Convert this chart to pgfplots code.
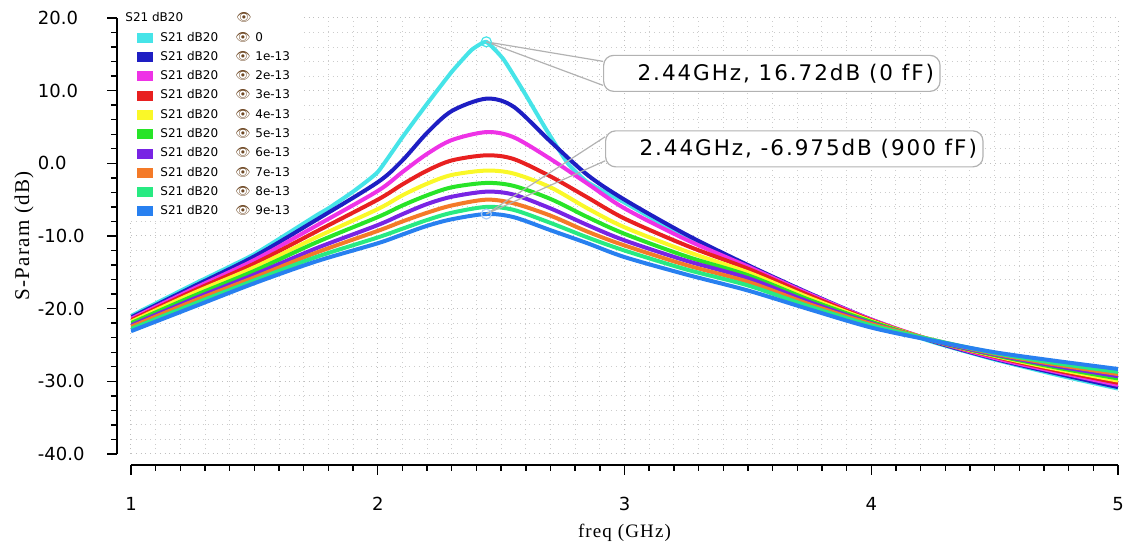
\documentclass[border=0pt]{standalone}
\usepackage{fontspec}
\usepackage{pgfplots}
\pgfplotsset{compat=1.18}
\usepackage{pgfplotstable}

\setmainfont{DejaVu Sans}
\newfontfamily\annfont[LetterSpace=9]{DejaVu Sans}
\newfontfamily\labfont[LetterSpace=6]{Liberation Serif}
\newfontfamily\emojifont{Noto Emoji}

\definecolor{c0}{RGB}{70,228,232}
\definecolor{c1}{RGB}{30,30,195}
\definecolor{c2}{RGB}{238,50,230}
\definecolor{c3}{RGB}{232,32,32}
\definecolor{c4}{RGB}{250,248,40}
\definecolor{c5}{RGB}{40,228,40}
\definecolor{c6}{RGB}{120,36,228}
\definecolor{c7}{RGB}{244,122,40}
\definecolor{c8}{RGB}{40,234,130}
\definecolor{c9}{RGB}{40,128,240}
\definecolor{eyebrown}{RGB}{110,72,36}

\newcommand\eye{{\emojifont\fontsize{6}{6}\selectfont\color{eyebrown}👁}}
\newcommand\entry[1]{\makebox[37.5pt][l]{S21 dB20}\makebox[10pt][l]{\eye}#1}

\pgfplotsset{
  plotarea/.style={scale only axis, width=493.5pt, height=218pt},
  freqticks/.style={xmin=1, xmax=5, xtick={1,2,3,4,5}, minor x tick num=9},
  dbticks/.style={ymin=-40, ymax=20, ytick={-40,-30,...,20}, minor y tick num=4},
  lineaxis/.style={
    axis line style={black, line width=0.8pt},
    tick align=outside, major tick length=5pt, minor tick length=3pt,
    tick style={black, line width=0.7pt},
    tick label style={font=\fontsize{9}{10}\selectfont},
    /pgf/number format/assume math mode=true},
}

% S21 (dB) for C = 100f ... 900f
\pgfplotstableread{
f     c1     c2     c3     c4     c5     c6     c7     c8     c9
1.00 -21.2  -21.4  -21.6  -21.8  -22.0  -22.3  -22.5  -22.8  -23.1
1.25 -17.0  -17.3  -17.6  -17.9  -18.3  -18.7  -19.0  -19.4  -19.8
1.50 -12.8  -13.3  -13.8  -14.3  -14.8  -15.3  -15.7  -16.1  -16.5
1.75  -7.8   -8.6   -9.4  -10.2  -10.9  -11.7  -12.3  -12.9  -13.5
2.00  -2.6   -3.8   -5.0   -6.3   -7.4   -8.5   -9.3  -10.2  -11.0
2.10   0.4   -1.2   -2.9   -4.4   -5.8   -7.0   -8.0   -9.0   -9.8
2.20   4.2    1.3   -1.0   -2.8   -4.4   -5.6   -6.8   -7.8   -8.6
2.30   7.2    3.2    0.4   -1.6   -3.3   -4.6   -5.8   -6.8   -7.7
2.44   8.9    4.3    1.1   -1.0   -2.7   -3.9   -5.0   -6.0   -6.975
2.55   7.8    3.6    0.6   -1.4   -3.1   -4.3   -5.5   -6.4   -7.4
2.70   3.0    0.6   -1.8   -3.3   -4.9   -6.2   -7.2   -8.2   -9.2
2.85  -1.6   -2.8   -4.7   -6.2   -7.4   -8.5   -9.4  -10.2  -11.0
3.00  -5.0   -6.2   -7.6   -8.8   -9.7  -10.6  -11.3  -12.0  -12.9
3.25  -9.8  -10.5  -11.3  -12.1  -12.8  -13.4  -14.0  -14.6  -15.3
3.50 -14.0  -14.2  -14.5  -15.0  -15.4  -15.8  -16.3  -16.8  -17.5
3.75 -17.9  -18.0  -18.2  -18.5  -18.8  -19.1  -19.4  -19.7  -20.1
4.00 -21.5  -21.5  -21.6  -21.7  -21.8  -22.0  -22.1  -22.3  -22.6
4.25 -24.5  -24.4  -24.4  -24.4  -24.4  -24.4  -24.3  -24.3  -24.4
4.50 -26.9  -26.8  -26.6  -26.5  -26.4  -26.3  -26.2  -26.1  -26.0
4.75 -28.9  -28.7  -28.5  -28.3  -28.1  -27.9  -27.7  -27.5  -27.2
5.00 -30.8  -30.5  -30.2  -29.9  -29.6  -29.3  -29.0  -28.7  -28.3
}\sparams

% C = 0: sharp resonance
\pgfplotstableread{
f     c0
1.00 -21.0
1.25 -16.7
1.50 -12.5
1.75  -7.2
1.80  -6.2
1.90  -3.9
2.00  -1.2
2.10   3.6
2.20   8.2
2.30  12.6
2.38  15.6
2.44  16.72
2.51  14.3
2.60   9.4
2.68   4.8
2.77   0.0
2.85  -2.6
3.00  -5.4
3.25 -10.2
3.50 -14.2
3.75 -18.1
4.00 -21.7
4.25 -24.6
4.50 -27.0
4.75 -29.1
5.00 -31.0
}\czero

\begin{document}
\begin{tikzpicture}
\useasboundingbox (-65.5pt,-45pt) rectangle (497.5pt,227pt);

% detached frequency axis below the plot area
\begin{axis}[
  xticklabel style={yshift=-7.5pt},
  at={(0,-5.5pt)}, anchor=south west,
  scale only axis, width=493.5pt, height=1pt,
  freqticks, ymin=0, ymax=1, ytick=\empty,
  axis x line*=bottom, axis y line=none, lineaxis,
]
\end{axis}

% detached dB axis left of the plot area (labels left-aligned)
\begin{axis}[
  yticklabel={\makebox[22pt][l]{\pgfmathprintnumber[fixed, fixed zerofill,
    precision=1, assume math mode=true]{\tick}}\hspace*{9pt}},
  at={(-7pt,0)}, anchor=south west,
  scale only axis, width=1pt, height=218pt,
  dbticks, xmin=0, xmax=1, xtick=\empty,
  axis y line*=left, axis x line=none, lineaxis,
]
\end{axis}

\begin{axis}[
  at={(0,0)}, anchor=south west, plotarea,
  freqticks, dbticks,
  axis line style={draw=none}, tick style={draw=none},
  xticklabels={}, yticklabels={},
  grid=both,
  major grid style={dotted, gray!50, line width=0.5pt},
  minor grid style={dotted, gray!40, line width=0.5pt},
  xlabel={freq (GHz)},
  xlabel style={font=\labfont\fontsize{9.5}{11}\selectfont,
    at={([yshift=-42pt]axis description cs:0.5,0)}, anchor=base},
  ylabel={S-Param (dB)},
  ylabel style={font=\labfont\fontsize{10.5}{12}\selectfont,
    at={([xshift=-53.5pt]axis description cs:0,0.5)}, anchor=center},
  legend style={at={(0,1)}, anchor=north west, xshift=-4pt, yshift=4.8pt,
    draw=none, fill=white, inner xsep=7pt, inner ysep=2pt,
    row sep=3.95pt, column sep=3.5pt,
    font=\fontsize{6}{7}\selectfont,
    nodes={inner sep=0pt, text height=4.5pt, text depth=1.2pt}},
  legend cell align=left,
  legend image code/.code={\fill[#1, draw=none] (0pt,-2.5pt) rectangle (8pt,2.5pt);},
  every axis plot/.append style={line width=2pt},
]
\addlegendimage{empty legend}
\addlegendentry{\hspace*{-17.5pt}\makebox[55.5pt][l]{S21 dB20}\eye}

\addplot[c0, smooth, tension=0.25] table[x=f, y=c0] {\czero};
\addlegendentry{\entry{0}}
\addplot[c1, smooth, tension=0.5] table[x=f, y=c1] {\sparams};
\addlegendentry{\entry{1e-13}}
\addplot[c2, smooth, tension=0.5] table[x=f, y=c2] {\sparams};
\addlegendentry{\entry{2e-13}}
\addplot[c3, smooth, tension=0.5] table[x=f, y=c3] {\sparams};
\addlegendentry{\entry{3e-13}}
\addplot[c4, smooth, tension=0.5] table[x=f, y=c4] {\sparams};
\addlegendentry{\entry{4e-13}}
\addplot[c5, smooth, tension=0.5] table[x=f, y=c5] {\sparams};
\addlegendentry{\entry{5e-13}}
\addplot[c6, smooth, tension=0.5] table[x=f, y=c6] {\sparams};
\addlegendentry{\entry{6e-13}}
\addplot[c7, smooth, tension=0.5] table[x=f, y=c7] {\sparams};
\addlegendentry{\entry{7e-13}}
\addplot[c8, smooth, tension=0.5] table[x=f, y=c8] {\sparams};
\addlegendentry{\entry{8e-13}}
\addplot[c9, smooth, tension=0.5] table[x=f, y=c9] {\sparams};
\addlegendentry{\entry{9e-13}}

% marker circles at the two read-out points
\addplot[forget plot, only marks, mark=o, mark size=2.5pt, line width=0.6pt, c0]
  coordinates {(2.44,16.72)};
\addplot[forget plot, only marks, mark=o, mark size=2.5pt, line width=0.6pt, c9!40]
  coordinates {(2.44,-6.975)};

% read-out boxes
\node[draw=gray!60, fill=white, rounded corners=5pt, line width=0.6pt,
  anchor=west, inner xsep=3pt, inner ysep=0pt, minimum height=18pt,
  font=\annfont\fontsize{10.75}{12}\selectfont]
  (b1) at (axis cs:2.913,12.38) {\hspace*{14pt}2.44GHz, 16.72dB (0 fF)};
\draw[gray!60, line width=0.6pt] ([yshift=6pt]b1.west) -- (axis cs:2.44,16.72)
  -- ([yshift=-6pt]b1.west);
\node[draw=gray!60, fill=white, rounded corners=5pt, line width=0.6pt,
  anchor=west, inner xsep=3pt, inner ysep=0pt, minimum height=18pt,
  font=\annfont\fontsize{10.75}{12}\selectfont]
  (b2) at (axis cs:2.921,1.99) {\hspace*{14pt}2.44GHz, -6.975dB (900 fF)};
\draw[gray!60, line width=0.6pt] ([yshift=6pt]b2.west) -- (axis cs:2.44,-6.975)
  -- ([yshift=-6pt]b2.west);
\end{axis}
\end{tikzpicture}
\end{document}
